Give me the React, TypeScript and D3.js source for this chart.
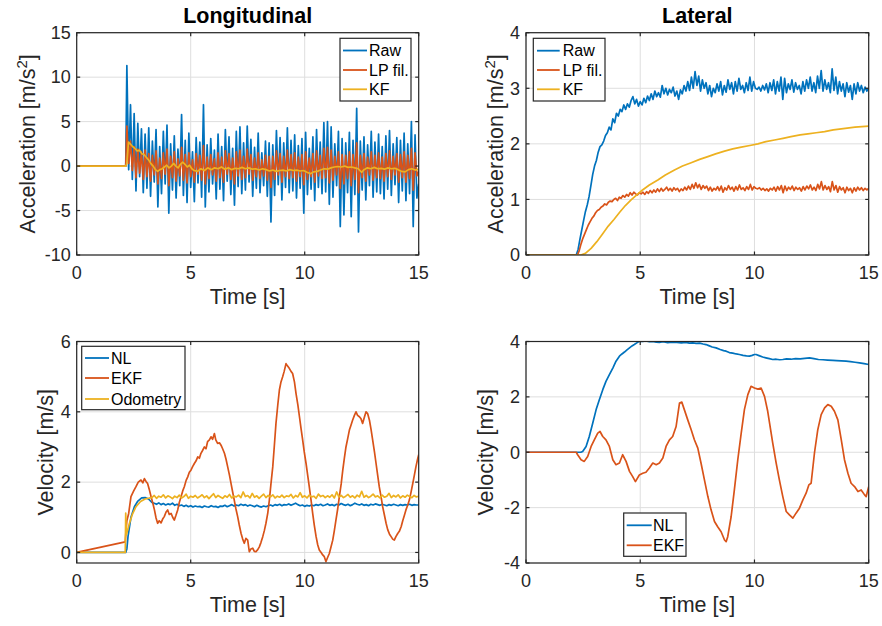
import React from "react";
import * as d3 from "d3";

type Pt = [number, number];

const FONT = "'Liberation Sans', Arial, Helvetica, sans-serif";
const BLUE = "#0072BD";
const RED = "#D95319";
const YEL = "#EDB120";
const AX = "#262626";
const GRID = "#dedede";

const xTicks = [0, 5, 10, 15];
const longAccTicks = [-10, -5, 0, 5, 10, 15];
const latAccTicks = [0, 1, 2, 3, 4];
const longVelTicks = [0, 2, 4, 6];
const latVelTicks = [-4, -2, 0, 2, 4];

// Longitudinal acceleration, raw (sampled 2.2 s .. 15 s)
const longRaw = [
  11.3, -0.4, 6.9, -1.5, 5.9, -2.8, 4.8, -1.2, 4.2, -3.0,
  3.6, -2.5, 4.3, -3.4, 2.8, -1.8, 4.1, -4.6, 2.2, -3.1,
  3.9, -2.0, 4.6, -5.3, 2.5, -2.7, 3.4, -3.6, 1.9, -2.2,
  5.8, -3.3, 2.9, -4.1, 3.7, -2.4, 1.6, -4.0, 3.2, -1.9,
  2.7, -3.5, 6.9, -4.6, 2.4, -2.9, 3.1, -2.0, 1.8, -3.7,
  3.6, -2.6, 2.2, -3.9, 4.1, -1.7, 3.3, -3.2, 2.0, -4.4,
  3.9, -2.3, 4.4, -3.1, 2.6, -2.7, 4.5, -1.8, 3.0, -3.4,
  2.1, -2.5, 3.7, -3.0, 1.5, -2.2, 2.8, -3.4, 2.6, -6.3,
  2.4, -3.3, 4.0, -2.1, 3.2, -3.8, 2.6, -2.4, 4.3, -3.0,
  2.9, -2.8, 3.5, -3.6, 2.3, -2.5, 3.1, -5.3, 3.8, -3.2,
  2.0, -2.6, 3.3, -3.9, 4.1, -2.4, 2.7, -3.1, 4.9, -2.9,
  5.0, -4.3, 4.4, -3.5, 2.5, -2.2, 3.9, -6.8, 3.1, -5.5,
  2.6, -3.0, 3.8, -5.7, 2.9, -3.2, 6.5, -7.4, 2.8, -2.7,
  3.3, -3.8, 2.4, -2.2, 3.9, -3.5, 2.7, -2.9, 3.6, -3.1,
  2.2, -3.7, 3.4, -2.6, 4.0, -3.3, 2.5, -2.1, 3.2, -4.1,
  2.9, -2.8, 3.7, -3.9, 2.5, -3.1, 5.0, -6.8, 3.5, -3.6,
  -2.0,
];

// Longitudinal acceleration, low-pass filtered (same sampling)
const longLP = [
  4.5, 0.3, 2.8, -0.5, 2.2, -1.3, 1.9, -0.8, 1.6, -1.5,
  1.8, -1.2, 1.4, -1.7, 1.2, -1.0, 1.7, -2.0, 0.9, -1.4,
  1.5, -0.9, 1.9, -2.2, 1.1, -1.3, 1.6, -1.7, 0.8, -1.1,
  2.1, -1.6, 1.3, -1.9, 1.5, -1.2, 0.7, -1.8, 1.4, -0.9,
  1.2, -1.6, 2.3, -2.0, 1.0, -1.4, 1.3, -1.0, 0.8, -1.7,
  1.5, -1.3, 1.0, -1.8, 1.7, -0.9, 1.4, -1.5, 0.9, -2.0,
  1.6, -1.1, 1.8, -1.5, 1.1, -1.3, 1.9, -0.9, 1.3, -1.6,
  0.9, -1.2, 1.5, -1.4, 0.7, -1.1, 1.2, -1.6, 1.1, -2.4,
  1.1, -1.5, 1.7, -1.0, 1.4, -1.8, 1.1, -1.2, 1.8, -1.4,
  1.3, -1.3, 1.5, -1.7, 1.0, -1.2, 1.3, -2.1, 1.6, -1.5,
  0.9, -1.2, 1.4, -1.8, 1.7, -1.1, 1.2, -1.4, 2.0, -1.3,
  2.1, -1.9, 1.8, -1.6, 1.1, -1.0, 1.6, -2.5, 1.3, -2.0,
  1.2, -1.4, 1.6, -2.2, 1.3, -1.5, 2.6, -3.0, 1.2, -1.3,
  1.4, -1.7, 1.0, -1.0, 1.6, -1.6, 1.2, -1.3, 1.5, -1.4,
  1.0, -1.7, 1.4, -1.2, 1.7, -1.5, 1.1, -1.0, 1.4, -1.8,
  1.3, -1.3, 1.6, -1.8, 1.2, -1.4, 2.0, -2.7, 1.5, -1.1,
  -0.6,
];

// Longitudinal acceleration, Kalman filter [t, value]
const longKF: Pt[] = [
  [0, 0], [2.15, 0], [2.2, 0.3], [2.27, 2.7], [2.35, 2.5], [2.45, 2.2], [2.55, 2.0], [2.65, 1.7],
  [2.75, 1.8], [2.85, 1.4], [2.95, 1.3], [3.05, 1.0], [3.15, 0.7], [3.25, 0.3], [3.35, 0.0],
  [3.45, -0.4], [3.55, -0.6], [3.65, -0.4], [3.75, -0.3], [3.85, -0.1], [3.95, 0.1], [4.05, -0.2],
  [4.15, 0.0], [4.25, 0.3], [4.35, 0.0], [4.45, -0.2], [4.55, 0.2], [4.65, 0.45], [4.75, 0.2],
  [4.85, -0.1], [4.95, 0.1], [5.05, -0.3], [5.15, -0.5], [5.3, -0.6], [5.45, -0.3], [5.6, -0.5],
  [5.75, -0.2], [5.9, -0.4], [6.05, -0.2], [6.2, -0.3], [6.35, -0.1], [6.5, -0.35], [6.65, -0.2],
  [6.8, -0.4], [6.95, -0.25], [7.1, -0.3], [7.25, -0.15], [7.4, -0.3], [7.55, -0.2], [7.7, -0.35],
  [7.85, -0.3], [8.0, -0.45], [8.15, -0.3], [8.3, -0.4], [8.45, -0.55], [8.6, -0.45], [8.75, -0.6],
  [8.9, -0.5], [9.05, -0.45], [9.2, -0.55], [9.35, -0.4], [9.5, -0.5], [9.65, -0.45], [9.8, -0.55],
  [9.95, -0.5], [10.1, -0.7], [10.25, -0.85], [10.4, -0.65], [10.55, -0.6], [10.7, -0.45],
  [10.85, -0.3], [11.0, -0.35], [11.15, -0.2], [11.3, -0.1], [11.45, -0.05], [11.6, -0.1],
  [11.75, 0.0], [11.9, -0.15], [12.05, -0.1], [12.2, -0.2], [12.35, -0.3], [12.5, -0.7],
  [12.6, -0.4], [12.75, -0.2], [12.9, -0.3], [13.05, -0.15], [13.2, -0.3], [13.35, -0.25],
  [13.5, -0.35], [13.65, -0.2], [13.8, -0.3], [13.95, -0.25], [14.1, -0.4], [14.25, -0.6],
  [14.4, -0.65], [14.55, -0.4], [14.7, -0.3], [14.85, -0.45], [15.0, -0.35],
];

// Lateral acceleration, raw (sampled 2.2 s .. 15 s)
const latRaw = [
  0.0, 0.1, 0.28, 0.45, 0.62, 0.78, 0.9, 1.05, 1.25, 1.45,
  1.6, 1.7, 1.85, 1.95, 1.98, 2.05, 2.15, 2.2, 2.3, 2.25,
  2.45, 2.38, 2.55, 2.5, 2.62, 2.58, 2.7, 2.62, 2.72, 2.66,
  2.78, 2.85, 2.72, 2.8, 2.68, 2.76, 2.7, 2.82, 2.74, 2.86,
  2.78, 2.9, 2.8, 2.95, 2.85, 2.92, 2.84, 3.05, 2.9, 3.0,
  2.88, 2.98, 2.92, 3.02, 2.86, 2.95, 2.8, 2.97, 2.9, 3.05,
  2.95, 3.12, 2.96, 3.2, 3.0, 3.3, 3.05, 3.22, 2.95, 3.15,
  3.0, 3.1, 2.9, 3.05, 2.85, 3.0, 2.92, 3.08, 2.95, 3.12,
  2.88, 3.05, 2.93, 3.15, 2.98, 3.1, 2.9, 3.12, 2.95, 3.18,
  2.98, 3.05, 2.92, 3.1, 2.96, 3.2, 2.95, 3.12, 3.0, 2.98,
  3.02, 2.95, 3.05, 2.97, 3.08, 2.92, 3.1, 2.96, 3.15, 2.9,
  3.12, 2.95, 3.2, 2.8, 3.18, 2.92, 3.08, 2.98, 3.15, 2.93,
  3.1, 2.98, 3.05, 2.9, 3.12, 2.95, 3.15, 3.0, 3.2, 2.95,
  3.1, 2.92, 3.22, 3.0, 3.32, 2.95, 3.15, 2.98, 3.1, 2.92,
  3.35, 2.96, 3.2, 2.9, 3.12, 2.95, 3.08, 2.85, 3.1, 2.93,
  3.05, 2.8, 3.08, 2.9, 3.1, 2.95, 3.05, 2.92, 3.02, 2.95,
  3.0,
];

// Lateral acceleration, low-pass filtered (same sampling)
const latLP = [
  0.0, 0.08, 0.2, 0.3, 0.38, 0.46, 0.54, 0.6, 0.66, 0.7,
  0.76, 0.8, 0.82, 0.86, 0.88, 0.92, 0.9, 0.95, 0.97, 0.96,
  1.0, 1.02, 0.98, 1.04, 1.02, 1.07, 1.04, 1.09, 1.06, 1.12,
  1.08, 1.13, 1.1, 1.08, 1.12, 1.1, 1.13, 1.09, 1.14, 1.11,
  1.16, 1.12, 1.17, 1.13, 1.19, 1.14, 1.2, 1.15, 1.18, 1.22,
  1.16, 1.2, 1.15, 1.21, 1.17, 1.2, 1.14, 1.19, 1.16, 1.22,
  1.17, 1.24, 1.18, 1.27, 1.2, 1.3, 1.21, 1.27, 1.18, 1.25,
  1.2, 1.24, 1.16, 1.22, 1.15, 1.2, 1.17, 1.23, 1.16, 1.24,
  1.13, 1.21, 1.17, 1.25, 1.18, 1.22, 1.15, 1.23, 1.17, 1.26,
  1.18, 1.21, 1.16, 1.23, 1.18, 1.27, 1.17, 1.23, 1.2, 1.19,
  1.21, 1.17, 1.2, 1.16, 1.19, 1.15, 1.2, 1.17, 1.22, 1.15,
  1.23, 1.17, 1.25, 1.12, 1.24, 1.16, 1.22, 1.18, 1.24, 1.16,
  1.22, 1.18, 1.21, 1.15, 1.23, 1.17, 1.24, 1.19, 1.26, 1.17,
  1.22, 1.16, 1.27, 1.19, 1.32, 1.17, 1.25, 1.18, 1.23, 1.14,
  1.32, 1.17, 1.25, 1.13, 1.23, 1.17, 1.21, 1.12, 1.22, 1.16,
  1.2, 1.12, 1.21, 1.15, 1.22, 1.17, 1.21, 1.16, 1.2, 1.17,
  1.2,
];

// Lateral acceleration, Kalman filter [t, value]
const latKF: Pt[] = [
  [0, 0], [2.4, 0], [2.6, 0.03], [2.85, 0.12], [3.1, 0.24], [3.35, 0.38], [3.6, 0.52], [3.85, 0.64],
  [4.1, 0.77], [4.35, 0.89], [4.6, 0.99], [4.85, 1.08], [5.1, 1.17], [5.4, 1.26], [5.77, 1.35],
  [6.1, 1.44], [6.5, 1.53], [6.85, 1.6], [7.23, 1.66], [7.6, 1.72], [7.96, 1.77], [8.3, 1.82],
  [8.69, 1.87], [9.05, 1.91], [9.42, 1.94], [9.8, 1.97], [10.15, 2.0], [10.5, 2.04], [10.88, 2.07],
  [11.25, 2.1], [11.6, 2.13], [12.0, 2.16], [12.34, 2.18], [12.7, 2.2], [13.07, 2.22],
  [13.45, 2.25], [13.8, 2.27], [14.4, 2.3], [15.0, 2.32],
];

// Longitudinal velocity, NL head [t, value] and noisy tail (sampled 3.4 s .. 15 s)
const longNLHead: Pt[] = [
  [0, 0], [2.15, 0], [2.2, 0.1], [2.25, 0.45], [2.38, 1.0], [2.53, 1.3], [2.67, 1.45],
  [2.85, 1.55], [3.0, 1.56], [3.15, 1.52], [3.3, 1.42],
];
const longNLTail = [
  1.40, 1.37, 1.41, 1.36, 1.39, 1.35, 1.38, 1.36, 1.40, 1.34,
  1.37, 1.33, 1.35, 1.31, 1.34, 1.30, 1.33, 1.29, 1.32, 1.30,
  1.31, 1.28, 1.32, 1.30, 1.29, 1.33, 1.30, 1.31, 1.28, 1.32,
  1.31, 1.34, 1.30, 1.33, 1.36, 1.32, 1.35, 1.33, 1.37, 1.34,
  1.36, 1.32, 1.35, 1.33, 1.30, 1.34, 1.31, 1.29, 1.32, 1.30,
  1.33, 1.35, 1.32, 1.36, 1.34, 1.37, 1.33, 1.36, 1.35, 1.38,
  1.34, 1.37, 1.40, 1.36, 1.33, 1.35, 1.31, 1.34, 1.32, 1.35,
  1.33, 1.36, 1.34, 1.37, 1.33, 1.35, 1.38, 1.34, 1.36, 1.33,
  1.37, 1.35, 1.39, 1.36, 1.34, 1.37, 1.33, 1.36, 1.40, 1.37,
  1.35, 1.38, 1.34, 1.36, 1.33, 1.37, 1.35, 1.38, 1.36, 1.34,
  1.37, 1.35, 1.33, 1.36, 1.34, 1.37, 1.35, 1.33, 1.36, 1.34,
  1.36, 1.35, 1.37, 1.34, 1.36, 1.35, 1.35,
];

// Longitudinal velocity, odometry head and noisy tail (sampled 3.3 s .. 15 s)
const longOdoHead: Pt[] = [
  [0, 0], [2.13, 0], [2.15, 1.12], [2.18, 0.5], [2.3, 0.8], [2.45, 1.1], [2.6, 1.3],
  [2.8, 1.45], [3.0, 1.52], [3.2, 1.55],
];
const longOdoTail = [
  1.56, 1.62, 1.54, 1.60, 1.57, 1.64, 1.55, 1.61, 1.58, 1.53,
  1.60, 1.56, 1.63, 1.55, 1.59, 1.66, 1.54, 1.60, 1.57, 1.62,
  1.55, 1.59, 1.64, 1.56, 1.61, 1.53, 1.60, 1.67, 1.56, 1.62,
  1.58, 1.54, 1.61, 1.57, 1.65, 1.55, 1.60, 1.58, 1.63, 1.56,
  1.72, 1.59, 1.62, 1.55, 1.68, 1.57, 1.61, 1.54, 1.60, 1.66,
  1.56, 1.62, 1.58, 1.64, 1.55, 1.60, 1.57, 1.63, 1.56, 1.61,
  1.59, 1.65, 1.55, 1.62, 1.58, 1.70, 1.57, 1.61, 1.55, 1.63,
  1.58, 1.60, 1.54, 1.66, 1.59, 1.62, 1.56, 1.61, 1.57, 1.64,
  1.55, 1.72, 1.58, 1.62, 1.56, 1.60, 1.65, 1.57, 1.61, 1.55,
  1.63, 1.58, 1.74, 1.57, 1.62, 1.56, 1.60, 1.66, 1.58, 1.61,
  1.55, 1.63, 1.57, 1.60, 1.68, 1.56, 1.62, 1.58, 1.64, 1.55,
  1.61, 1.57, 1.63, 1.59, 1.56, 1.62, 1.58, 1.60,
];

// Longitudinal velocity, EKF [t, value]
const longEKF: Pt[] = [
  [0, 0], [2.13, 0.3], [2.16, 0.6], [2.2, 0.9], [2.28, 1.11], [2.38, 1.59], [2.5, 1.75], [2.6, 1.87],
  [2.7, 2.0], [2.82, 2.06], [2.9, 1.98], [2.97, 2.1], [3.04, 2.02], [3.11, 1.96], [3.18, 1.8],
  [3.26, 1.59], [3.34, 1.4], [3.41, 1.21], [3.48, 0.98], [3.55, 0.83], [3.62, 0.9], [3.7, 0.84],
  [3.77, 0.95], [3.84, 1.02], [3.92, 1.15], [3.99, 1.21], [4.06, 1.08], [4.14, 1.11], [4.21, 1.0],
  [4.28, 0.92], [4.35, 1.05], [4.43, 1.21], [4.5, 1.42], [4.58, 1.59], [4.65, 1.75], [4.72, 1.87],
  [4.8, 2.05], [4.87, 2.15], [4.94, 2.28], [5.01, 2.34], [5.09, 2.45], [5.16, 2.53], [5.23, 2.6],
  [5.31, 2.72], [5.38, 2.68], [5.45, 2.82], [5.52, 2.9], [5.6, 3.0], [5.67, 2.95], [5.74, 3.15],
  [5.82, 3.2], [5.89, 3.29], [5.96, 3.22], [6.04, 3.38], [6.1, 3.2], [6.18, 3.1], [6.26, 3.12],
  [6.33, 3.05], [6.4, 2.95], [6.48, 2.82], [6.55, 2.65], [6.62, 2.44], [6.7, 2.2], [6.77, 1.96],
  [6.84, 1.72], [6.91, 1.49], [6.98, 1.25], [7.06, 1.02], [7.13, 0.78], [7.21, 0.54], [7.28, 0.38],
  [7.35, 0.26], [7.42, 0.4], [7.5, 0.35], [7.57, 0.02], [7.64, 0.1], [7.72, 0.12], [7.79, 0.03],
  [7.86, 0.02], [7.94, 0.08], [8.01, 0.16], [8.08, 0.28], [8.16, 0.45], [8.23, 0.62], [8.3, 0.83],
  [8.38, 1.12], [8.45, 1.49], [8.52, 1.95], [8.6, 2.44], [8.67, 3.05], [8.74, 3.67], [8.82, 4.2],
  [8.89, 4.62], [8.96, 4.85], [9.03, 4.99], [9.1, 5.15], [9.18, 5.37], [9.25, 5.3], [9.33, 5.23],
  [9.4, 5.15], [9.47, 5.09], [9.55, 4.85], [9.62, 4.52], [9.7, 4.2], [9.77, 3.86], [9.84, 3.52],
  [9.91, 3.2], [9.98, 2.86], [10.06, 2.53], [10.13, 2.2], [10.2, 1.87], [10.28, 1.48], [10.35, 1.11],
  [10.42, 0.78], [10.5, 0.45], [10.57, 0.22], [10.64, 0.07], [10.72, 0.0], [10.79, -0.07],
  [10.86, -0.12], [10.93, -0.26], [11.0, -0.15], [11.08, -0.03], [11.15, 0.15], [11.23, 0.35],
  [11.3, 0.62], [11.37, 0.92], [11.45, 1.25], [11.52, 1.59], [11.6, 1.95], [11.67, 2.34],
  [11.74, 2.68], [11.81, 3.0], [11.89, 3.25], [11.96, 3.48], [12.03, 3.62], [12.1, 3.76],
  [12.18, 3.9], [12.25, 4.0], [12.32, 3.9], [12.4, 3.86], [12.47, 3.8], [12.54, 3.67], [12.62, 3.85],
  [12.69, 4.0], [12.76, 3.95], [12.84, 3.76], [12.91, 3.5], [12.98, 3.2], [13.06, 2.86], [13.13, 2.53],
  [13.2, 2.2], [13.27, 1.87], [13.35, 1.58], [13.42, 1.3], [13.5, 1.05], [13.57, 0.83], [13.64, 0.65],
  [13.72, 0.52], [13.79, 0.45], [13.86, 0.38], [13.93, 0.35], [14.0, 0.45], [14.08, 0.54],
  [14.15, 0.6], [14.23, 0.73], [14.3, 0.9], [14.37, 1.05], [14.44, 1.21], [14.52, 1.35],
  [14.59, 1.49], [14.66, 1.7], [14.74, 1.96], [14.81, 2.2], [14.88, 2.44], [14.95, 2.65], [15.0, 2.78],
];

// Lateral velocity, NL [t, value]
const latNL: Pt[] = [
  [0, 0], [2.26, 0], [2.4, 0.0], [2.48, 0.03], [2.63, 0.21], [2.77, 0.57], [2.92, 1.05], [3.07, 1.54],
  [3.21, 1.9], [3.36, 2.26], [3.5, 2.56], [3.65, 2.8], [3.8, 3.04], [3.94, 3.29], [4.09, 3.47],
  [4.2, 3.55], [4.31, 3.62], [4.42, 3.7], [4.53, 3.77], [4.64, 3.84], [4.74, 3.89], [4.85, 3.95],
  [4.96, 4.01], [5.1, 4.0], [5.25, 4.02], [5.4, 3.99], [5.55, 4.0], [5.7, 3.98], [5.84, 3.97],
  [6.0, 3.99], [6.2, 3.96], [6.4, 3.98], [6.6, 3.97], [6.8, 3.95], [7.0, 3.97], [7.15, 3.94],
  [7.3, 3.95], [7.45, 3.93], [7.6, 3.94], [7.75, 3.91], [7.88, 3.89], [8.0, 3.85], [8.15, 3.8],
  [8.32, 3.77], [8.5, 3.71], [8.65, 3.67], [8.76, 3.65], [8.9, 3.6], [9.05, 3.58], [9.2, 3.55],
  [9.34, 3.53], [9.5, 3.5], [9.65, 3.48], [9.78, 3.47], [9.9, 3.5], [10.0, 3.53], [10.07, 3.53],
  [10.2, 3.49], [10.36, 3.44], [10.5, 3.41], [10.65, 3.38], [10.8, 3.35], [10.95, 3.36],
  [11.1, 3.34], [11.24, 3.35], [11.4, 3.37], [11.6, 3.36], [11.8, 3.38], [12.0, 3.37], [12.2, 3.39],
  [12.41, 3.41], [12.6, 3.38], [12.8, 3.35], [13.0, 3.34], [13.2, 3.33], [13.43, 3.32], [13.6, 3.31],
  [13.8, 3.3], [14.01, 3.29], [14.2, 3.27], [14.4, 3.25], [14.6, 3.23], [14.8, 3.2], [15.0, 3.17],
];

// Lateral velocity, EKF [t, value]
const latEKF: Pt[] = [
  [0, 0], [2.2, 0], [2.26, -0.09], [2.41, -0.27], [2.55, -0.33], [2.7, -0.15], [2.85, 0.21],
  [2.99, 0.45], [3.14, 0.69], [3.24, 0.75], [3.36, 0.57], [3.5, 0.45], [3.65, 0.21], [3.8, -0.27],
  [3.94, -0.45], [4.09, -0.39], [4.23, -0.09], [4.38, -0.33], [4.53, -0.69], [4.67, -0.88],
  [4.79, -1.06], [4.96, -0.82], [5.11, -0.76], [5.25, -0.72], [5.4, -0.57], [5.55, -0.39],
  [5.7, -0.45], [5.84, -0.39], [5.99, -0.21], [6.13, 0.21], [6.28, 0.45], [6.42, 0.57],
  [6.57, 0.93], [6.72, 1.78], [6.82, 1.81], [6.93, 1.54], [7.08, 1.17], [7.23, 0.81], [7.37, 0.45],
  [7.52, 0.15], [7.66, -0.39], [7.81, -1.0], [7.96, -1.6], [8.1, -2.08], [8.25, -2.5], [8.39, -2.69],
  [8.54, -2.87], [8.69, -3.17], [8.76, -3.23], [8.83, -3.05], [8.98, -2.32], [9.12, -1.36],
  [9.27, -0.27], [9.42, 0.69], [9.56, 1.54], [9.71, 2.08], [9.85, 2.38], [10.0, 2.32], [10.15, 2.28],
  [10.29, 2.32], [10.44, 2.02], [10.58, 1.48], [10.8, 0.33], [10.95, -0.39], [11.09, -1.0],
  [11.24, -1.6], [11.39, -2.14], [11.53, -2.26], [11.68, -2.38], [11.82, -2.2], [11.97, -2.02],
  [12.12, -1.72], [12.26, -1.48], [12.38, -1.18], [12.48, -1.12], [12.63, 0.0], [12.77, 0.81],
  [12.92, 1.36], [13.07, 1.6], [13.21, 1.72], [13.36, 1.66], [13.5, 1.48], [13.65, 1.17],
  [13.8, 0.45], [13.94, -0.27], [14.09, -0.76], [14.23, -1.12], [14.38, -1.24], [14.53, -1.42],
  [14.67, -1.36], [14.82, -1.54], [14.89, -1.6], [15.0, -1.24],
];

function sampled(t0: number, t1: number, vals: number[]): Pt[] {
  const n = vals.length;
  return vals.map((v, i) => [t0 + ((t1 - t0) * i) / (n - 1), v] as Pt);
}

const accRawLong: Pt[] = [[0, 0], [2.15, 0], ...sampled(2.2, 15, longRaw)];
const accLPLong: Pt[] = [[0, 0], [2.15, 0], ...sampled(2.2, 15, longLP)];
const accRawLat: Pt[] = [[0, 0], ...sampled(2.2, 15, latRaw)];
const accLPLat: Pt[] = [[0, 0], ...sampled(2.25, 15, latLP)];
const velNLLong: Pt[] = [...longNLHead, ...sampled(3.4, 15, longNLTail)];
const velOdoLong: Pt[] = [...longOdoHead, ...sampled(3.3, 15, longOdoTail)];

interface Series { data: Pt[]; color: string; name: string }
interface LegendBox { x: number; y: number; w: number; h: number; rows: number[]; lx0: number; lx1: number; tx: number }

interface PanelProps {
  x0: number; x1: number; y0: number; y1: number;
  yDomain: [number, number]; yTicks: number[];
  series: Series[]; title?: string;
  ylabel: string; sup?: string; ylabelX: number;
  legend: LegendBox; id: string;
}

const LABEL_SIZE = 21.5;

function Panel(p: PanelProps) {
  const xs = d3.scaleLinear().domain([0, 15]).range([p.x0, p.x1]);
  const ys = d3.scaleLinear().domain(p.yDomain).range([p.y1, p.y0]);
  const line = d3.line<Pt>().x((d) => xs(d[0])).y((d) => ys(d[1]));
  const tl = 3.5;
  const cx = (p.x0 + p.x1) / 2;
  const cy = (p.y0 + p.y1) / 2;
  return (
    <g>
      <defs>
        <clipPath id={p.id}>
          <rect x={p.x0} y={p.y0} width={p.x1 - p.x0} height={p.y1 - p.y0} />
        </clipPath>
      </defs>
      <rect x={p.x0} y={p.y0} width={p.x1 - p.x0} height={p.y1 - p.y0} fill="#fff" />
      {xTicks.map((t) => (
        <line key={"gx" + t} x1={xs(t)} x2={xs(t)} y1={p.y0} y2={p.y1} stroke={GRID} strokeWidth={1} />
      ))}
      {p.yTicks.map((t) => (
        <line key={"gy" + t} x1={p.x0} x2={p.x1} y1={ys(t)} y2={ys(t)} stroke={GRID} strokeWidth={1} />
      ))}
      <g clipPath={`url(#${p.id})`}>
        {p.series.map((s, i) => (
          <path key={i} d={line(s.data) || ""} fill="none" stroke={s.color} strokeWidth={1.7} strokeLinejoin="round" />
        ))}
      </g>
      <rect x={p.x0} y={p.y0} width={p.x1 - p.x0} height={p.y1 - p.y0} fill="none" stroke={AX} strokeWidth={1.2} />
      {xTicks.map((t) => (
        <g key={"tx" + t}>
          <line x1={xs(t)} x2={xs(t)} y1={p.y1} y2={p.y1 - tl} stroke={AX} strokeWidth={1.2} />
          <line x1={xs(t)} x2={xs(t)} y1={p.y0} y2={p.y0 + tl} stroke={AX} strokeWidth={1.2} />
          <text x={xs(t)} y={p.y1 + 24} textAnchor="middle" fontSize={18} fill={AX} fontFamily={FONT}>{t}</text>
        </g>
      ))}
      {p.yTicks.map((t) => (
        <g key={"ty" + t}>
          <line x1={p.x0} x2={p.x0 + tl} y1={ys(t)} y2={ys(t)} stroke={AX} strokeWidth={1.2} />
          <line x1={p.x1} x2={p.x1 - tl} y1={ys(t)} y2={ys(t)} stroke={AX} strokeWidth={1.2} />
          <text x={p.x0 - 6} y={ys(t)} dy="0.35em" textAnchor="end" fontSize={18} fill={AX} fontFamily={FONT}>{t}</text>
        </g>
      ))}
      <text x={cx} y={p.y1 + 49} textAnchor="middle" fontSize={LABEL_SIZE} fill={AX} fontFamily={FONT}>Time [s]</text>
      <text transform={`translate(${p.ylabelX},${cy}) rotate(-90)`} textAnchor="middle" fontSize={LABEL_SIZE} fill={AX} fontFamily={FONT}>
        {p.ylabel}
        {p.sup ? <tspan dy={-8} fontSize={15}>{p.sup}</tspan> : null}
        {p.sup ? <tspan dy={8}>]</tspan> : null}
      </text>
      {p.title ? (
        <text x={cx} y={23} textAnchor="middle" fontSize={LABEL_SIZE} fontWeight="bold" fill="#000" fontFamily={FONT}>{p.title}</text>
      ) : null}
      <rect x={p.legend.x} y={p.legend.y} width={p.legend.w} height={p.legend.h} fill="#fff" stroke={AX} strokeWidth={1.2} />
      {p.series.map((s, i) => (
        <g key={"lg" + i}>
          <line x1={p.legend.lx0} x2={p.legend.lx1} y1={p.legend.rows[i]} y2={p.legend.rows[i]} stroke={s.color} strokeWidth={1.8} />
          <text x={p.legend.tx} y={p.legend.rows[i]} dy="0.35em" fontSize={16} fill="#000" fontFamily={FONT}>{s.name}</text>
        </g>
      ))}
    </g>
  );
}

export default function App() {
  return (
    <svg width={882} height={626} style={{ position: "absolute", left: 0, top: 0, background: "#fff" }}>
      <rect x={0} y={0} width={882} height={626} fill="#fff" />
      <Panel
        id="c1" x0={76.7} x1={418.7} y0={32.7} y1={255} yDomain={[-10, 15]} yTicks={longAccTicks}
        title="Longitudinal" ylabel="Acceleration [m/s" sup="2" ylabelX={35}
        series={[
          { data: accRawLong, color: BLUE, name: "Raw" },
          { data: accLPLong, color: RED, name: "LP fil." },
          { data: longKF, color: YEL, name: "KF" },
        ]}
        legend={{ x: 340, y: 38.3, w: 71, h: 62.7, rows: [50.5, 70, 89.3], lx0: 343, lx1: 367, tx: 369 }}
      />
      <Panel
        id="c2" x0={526} x1={868.7} y0={32.7} y1={255} yDomain={[0, 4]} yTicks={latAccTicks}
        title="Lateral" ylabel="Acceleration [m/s" sup="2" ylabelX={503}
        series={[
          { data: accRawLat, color: BLUE, name: "Raw" },
          { data: accLPLat, color: RED, name: "LP fil." },
          { data: latKF, color: YEL, name: "KF" },
        ]}
        legend={{ x: 533.3, y: 38.3, w: 71.7, h: 62.7, rows: [50.7, 70, 89.3], lx0: 537, lx1: 559.7, tx: 562.7 }}
      />
      <Panel
        id="c3" x0={76.7} x1={418.7} y0={341.5} y1={563} yDomain={[-0.3, 6]} yTicks={longVelTicks}
        ylabel="Velocity [m/s]" ylabelX={52.5}
        series={[
          { data: velNLLong, color: BLUE, name: "NL" },
          { data: longEKF, color: RED, name: "EKF" },
          { data: velOdoLong, color: YEL, name: "Odometry" },
        ]}
        legend={{ x: 81.7, y: 346.3, w: 103.3, h: 63.4, rows: [358, 378, 399], lx0: 85, lx1: 109, tx: 111 }}
      />
      <Panel
        id="c4" x0={526} x1={868.7} y0={341.5} y1={563} yDomain={[-4, 4]} yTicks={latVelTicks}
        ylabel="Velocity [m/s]" ylabelX={493}
        series={[
          { data: latNL, color: BLUE, name: "NL" },
          { data: latEKF, color: RED, name: "EKF" },
        ]}
        legend={{ x: 623.7, y: 513, w: 62.3, h: 43.3, rows: [525.3, 545.3], lx0: 626.7, lx1: 651.7, tx: 653 }}
      />
    </svg>
  );
}
